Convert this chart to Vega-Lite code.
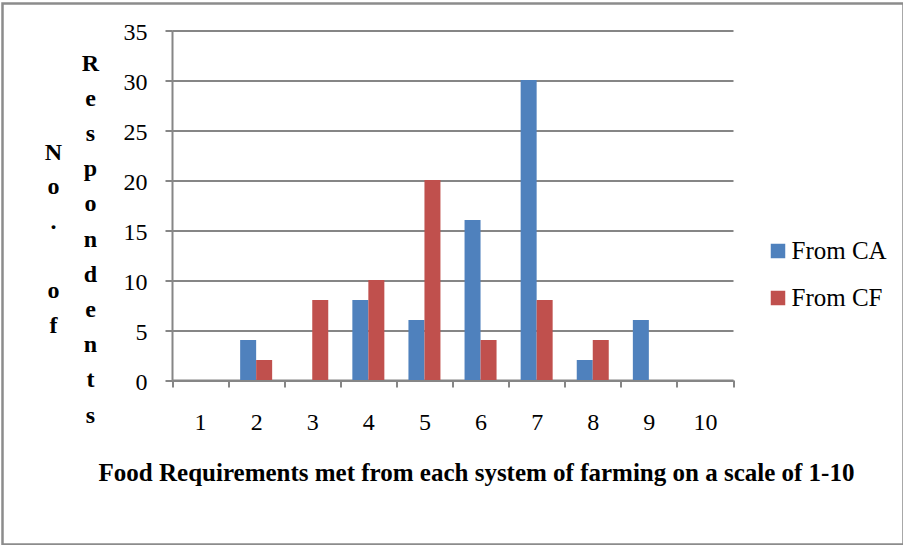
{
  "$schema": "https://vega.github.io/schema/vega-lite/v6.json",
  "width": 901,
  "height": 541,
  "autosize": {"type": "none"},
  "padding": {"left": 2.5, "top": 3.5, "right": 0, "bottom": 0},
  "background": "white",
  "config": {
    "view": {"stroke": "#8c8c8c", "strokeWidth": 2.5},
    "bar": {"stroke": null}
  },
  "data": {
    "values": [
      {"score": 1, "series": "From CA", "respondents": 0},
      {"score": 2, "series": "From CA", "respondents": 4},
      {"score": 3, "series": "From CA", "respondents": 0},
      {"score": 4, "series": "From CA", "respondents": 8},
      {"score": 5, "series": "From CA", "respondents": 6},
      {"score": 6, "series": "From CA", "respondents": 16},
      {"score": 7, "series": "From CA", "respondents": 30},
      {"score": 8, "series": "From CA", "respondents": 2},
      {"score": 9, "series": "From CA", "respondents": 6},
      {"score": 10, "series": "From CA", "respondents": 0},
      {"score": 1, "series": "From CF", "respondents": 0},
      {"score": 2, "series": "From CF", "respondents": 2},
      {"score": 3, "series": "From CF", "respondents": 8},
      {"score": 4, "series": "From CF", "respondents": 10},
      {"score": 5, "series": "From CF", "respondents": 20},
      {"score": 6, "series": "From CF", "respondents": 4},
      {"score": 7, "series": "From CF", "respondents": 8},
      {"score": 8, "series": "From CF", "respondents": 4},
      {"score": 9, "series": "From CF", "respondents": 0},
      {"score": 10, "series": "From CF", "respondents": 0}
    ]
  },
  "encoding": {
    "x": {
      "field": "score",
      "type": "ordinal",
      "scale": {
        "domain": [1, 2, 3, 4, 5, 6, 7, 8, 9, 10],
        "range": [169.5, 730.5],
        "paddingInner": 0,
        "paddingOuter": 0
      },
      "axis": {
        "orient": "bottom",
        "offset": -164.5,
        "tickBand": "extent",
        "grid": false,
        "domainColor": "#868686",
        "domainWidth": 2,
        "tickColor": "#868686",
        "tickWidth": 2,
        "tickSize": 7,
        "labelAngle": 0,
        "labelFont": "Liberation Serif",
        "labelFontSize": 24,
        "labelColor": "black",
        "labelPadding": 23,
        "title": "Food Requirements met from each system of farming on a scale of 1-10",
        "titleX": 473.5,
        "titleY": 92,
        "titleAlign": "center",
        "titleBaseline": "middle",
        "titleFont": "Liberation Serif",
        "titleFontSize": 25,
        "titleFontWeight": "bold",
        "titleColor": "black"
      }
    },
    "xOffset": {
      "field": "series",
      "scale": {"domain": ["From CA", "From CF"], "paddingInner": 0, "paddingOuter": 0.753}
    },
    "color": {
      "field": "series",
      "type": "nominal",
      "scale": {"domain": ["From CA", "From CF"], "range": ["#4F81BD", "#C0504D"]},
      "legend": {
        "orient": "none",
        "legendX": 763,
        "legendY": 235,
        "title": null,
        "padding": 0,
        "symbolType": "square",
        "symbolSize": 210,
        "symbolStrokeWidth": 0,
        "labelFont": "Liberation Serif",
        "labelFontSize": 25,
        "labelColor": "black",
        "labelOffset": 1,
        "rowPadding": 21
      }
    }
  },
  "layer": [
    {
      "transform": [{"filter": "datum.series === 'From CA'"}],
      "mark": "bar",
      "encoding": {
        "y": {
          "field": "respondents",
          "type": "quantitative",
          "scale": {"domain": [0, 35], "range": [376.5, 26.5], "nice": false},
          "axis": {
            "orient": "left",
            "offset": -169.5,
            "values": [0, 5, 10, 15, 20, 25, 30, 35],
            "grid": true,
            "gridColor": "#868686",
            "gridWidth": 2,
            "domainColor": "#868686",
            "domainWidth": 2,
            "tickColor": "#868686",
            "tickWidth": 2,
            "tickSize": 7,
            "labelFont": "Liberation Serif",
            "labelFontSize": 24,
            "labelColor": "black",
            "labelPadding": 18,
            "labelOffset": 2,
            "title": ["R", "e", "s", "p", "o", "n", "d", "e", "n", "t", "s"],
            "titleX": -82,
            "titleY": 59.5,
            "titleAngle": 0,
            "titleAlign": "center",
            "titleBaseline": "middle",
            "titleLineHeight": 35.2,
            "titleFont": "Liberation Serif",
            "titleFontSize": 24,
            "titleFontWeight": "bold",
            "titleColor": "black"
          }
        }
      }
    },
    {
      "transform": [{"filter": "datum.series === 'From CF'"}],
      "mark": "bar",
      "encoding": {
        "y": {
          "field": "respondents",
          "type": "quantitative",
          "scale": {"domain": [0, 35], "range": [376.5, 26.5], "nice": false},
          "axis": {
            "orient": "left",
            "offset": -169.5,
            "grid": false,
            "domain": false,
            "ticks": false,
            "labels": false,
            "title": ["N", "o", ".", "\u200b", "o", "f"],
            "titleX": -119,
            "titleY": 148.5,
            "titleAngle": 0,
            "titleAlign": "center",
            "titleBaseline": "middle",
            "titleLineHeight": 34.6,
            "titleFont": "Liberation Serif",
            "titleFontSize": 24,
            "titleFontWeight": "bold",
            "titleColor": "black"
          }
        }
      }
    }
  ],
  "resolve": {"axis": {"y": "independent"}}
}
